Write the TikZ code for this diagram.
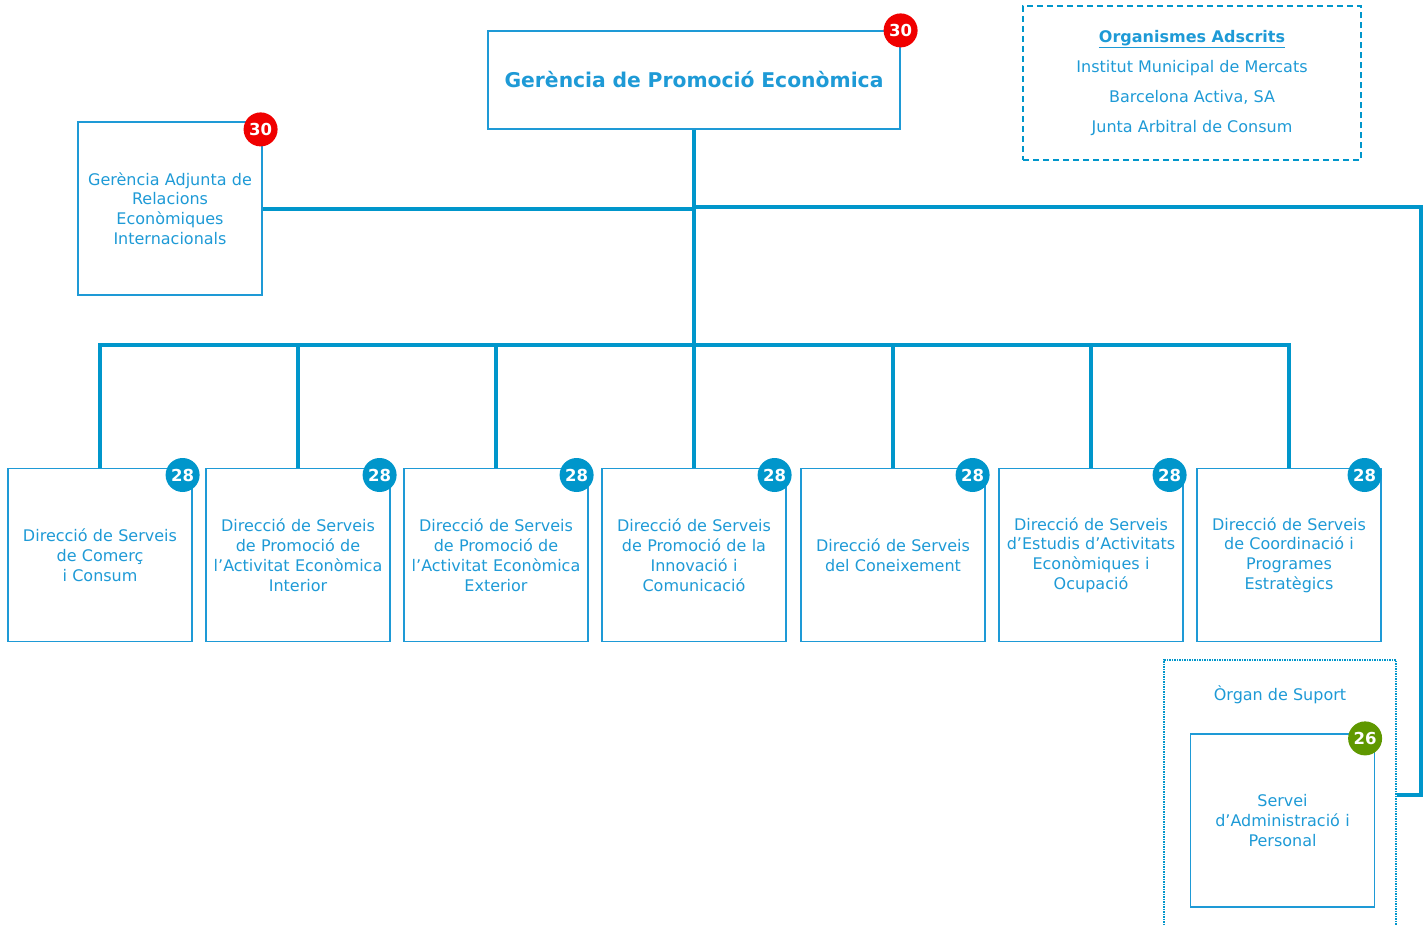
\documentclass[tikz,border=0pt]{standalone}
\usepackage{fontspec}
\setmainfont{DejaVu Sans}
\usetikzlibrary{positioning}

\definecolor{linecol}{HTML}{0096CB}
\definecolor{textcol}{HTML}{1E9AD6}
\definecolor{badgered}{HTML}{F00000}
\definecolor{badgeblue}{HTML}{0096CB}
\definecolor{badgegreen}{HTML}{5F9800}

\tikzset{
  unit/.style={draw=textcol, line width=1.2pt, text=textcol, align=center,
    minimum width=184pt, minimum height=173pt, text width=180pt,
    inner sep=0pt, font=\fontsize{16}{19.8}\selectfont},
  badge/.style={circle, fill=#1, text=white, minimum size=34pt, inner sep=0pt,
    font=\bfseries\fontsize{16.5}{16}\selectfont},
  link/.style={draw=linecol, line width=4pt},
}

\begin{document}
\begin{tikzpicture}[x=1pt,y=-1pt]
  \useasboundingbox (0,0) rectangle (1427,926);

  % Top level and the deputy management.
  \node[unit, minimum width=412pt, minimum height=98pt, text width=404pt,
        font=\bfseries\fontsize{20.3}{22}\selectfont] (gpe) at (694,80)
        {\raisebox{-2pt}{Gerència de Promoció Econòmica}};
  \node[unit] (gar) at (170,208.5)
        {Gerència Adjunta de\\Relacions\\Econòmiques\\Internacionals};

  % Attached bodies.
  \node[draw=linecol, line width=2.5pt, dash pattern=on 6pt off 4pt, text=textcol,
        align=center, minimum width=338pt, minimum height=154pt, inner sep=0pt,
        font=\fontsize{16}{30}\selectfont] (org) at (1192,83)
        {\underline{\textbf{Organismes Adscrits}}\\Institut Municipal de Mercats\\
         Barcelona Activa, SA\\Junta Arbitral de Consum};

  % The seven directions.
  \node[unit, anchor=north] (d1) at (100,468) {Direcció de Serveis\\de Comerç\\i Consum};
  \node[unit, anchor=north] (d2) at (298,468)
        {Direcció de Serveis\\de Promoció de\\l’Activitat Econòmica\\Interior};
  \node[unit, anchor=north] (d3) at (496,468)
        {Direcció de Serveis\\de Promoció de\\l’Activitat Econòmica\\Exterior};
  \node[unit, anchor=north] (d4) at (694,468)
        {Direcció de Serveis\\de Promoció de la\\Innovació i\\Comunicació};
  \node[unit, anchor=north] (d5) at (893,468) {Direcció de Serveis\\del Coneixement};
  \node[unit, anchor=north] (d6) at (1091,468)
        {Direcció de Serveis\\d’Estudis d’Activitats\\Econòmiques i\\Ocupació};
  \node[unit, anchor=north] (d7) at (1289,468)
        {Direcció de Serveis\\de Coordinació i\\Programes\\Estratègics};

  % Support unit.
  \node[draw=linecol, line width=2.5pt, dash pattern=on 1.5pt off 1pt,
        minimum width=232pt, minimum height=270pt] (sup) at (1280,795) {};
  \node[text=textcol, font=\fontsize{16}{18}\selectfont] (suptitle) at (1280,695)
        {Òrgan de Suport};
  \node[unit] (sap) at (1282.5,820.5) {Servei\\d’Administració i\\Personal};

  % Connectors.
  \coordinate (bus) at (694,345);
  \coordinate (turn) at (1421,207);
  \draw[link] (gpe.south) -- (d4.north);
  \draw[link] (gar.east) -- (gar.east -| gpe.south);
  \draw[link] (gpe.south |- turn) -- (turn) |- (sup.east);
  \draw[link] (d1.north) |- (bus) -| (d7.north);
  \draw[link] (d2.north) -- (d2.north |- bus);
  \draw[link] (d3.north) -- (d3.north |- bus);
  \draw[link] (d5.north) -- (d5.north |- bus);
  \draw[link] (d6.north) -- (d6.north |- bus);

  % Badges.
  \node[badge=badgered] (bgpe) at (gpe.north east) {30};
  \node[badge=badgered] (bgar) at ([shift={(-2,8)}]gar.north east) {30};
  \node[badge=badgeblue] (b1) at ([shift={(-10,7)}]d1.north east) {28};
  \node[badge=badgeblue] (b2) at ([shift={(-11,7)}]d2.north east) {28};
  \node[badge=badgeblue] (b3) at ([shift={(-12,7)}]d3.north east) {28};
  \node[badge=badgeblue] (b4) at ([shift={(-12,7)}]d4.north east) {28};
  \node[badge=badgeblue] (b5) at ([shift={(-13,7)}]d5.north east) {28};
  \node[badge=badgeblue] (b6) at ([shift={(-14,7)}]d6.north east) {28};
  \node[badge=badgeblue] (b7) at ([shift={(-17,7)}]d7.north east) {28};
  \node[badge=badgegreen] (bsap) at ([shift={(-10,5)}]sap.north east) {26};

\end{tikzpicture}
\end{document}
